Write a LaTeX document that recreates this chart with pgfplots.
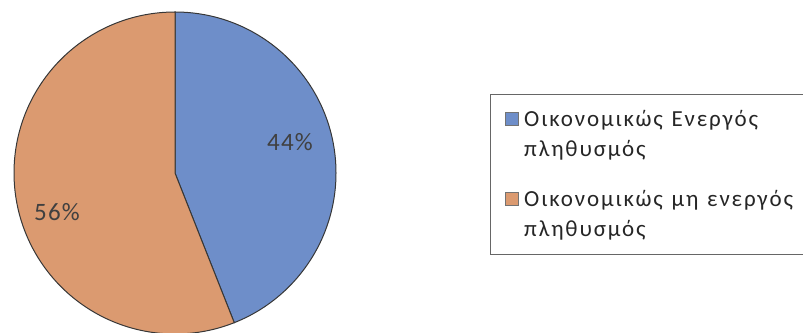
\documentclass[border=0pt]{standalone}
\usepackage{fontspec}
\setmainfont{Carlito}
\newfontfamily\widefont[LetterSpace=8, WordSpace=1.25]{Carlito}
\newfontfamily\labelfont[LetterSpace=5]{Carlito}
\usepackage{pgfplots}
\pgfplotsset{compat=1.18}

\definecolor{pieblue}{RGB}{110,142,201}
\definecolor{pieorange}{RGB}{219,154,112}
\definecolor{edge}{RGB}{55,55,55}

\begin{document}
\begin{tikzpicture}
\begin{axis}[
    name=ax,
    x=1pt, y=1pt,
    xmin=0, xmax=803,
    ymin=0, ymax=332,
    hide axis,
]
% 44% and 56%, slices start at 12 o'clock and run clockwise
\filldraw[fill=pieblue, draw=edge, line width=1pt]
    (axis cs:175,159) -- ++(0,161pt)
    arc[start angle=90, end angle={90-3.6*44}, radius=161pt] -- cycle;
\filldraw[fill=pieorange, draw=edge, line width=1pt]
    (axis cs:175,159) -- ++(0,161pt)
    arc[start angle=90, end angle={90+3.6*56}, radius=161pt] -- cycle;

\node[font=\labelfont\fontsize{25}{28}\selectfont, text=black!75] at (axis cs:290,190) {44\%};
\node[font=\labelfont\fontsize{25}{28}\selectfont, text=black!75] at (axis cs:57,120) {56\%};

% legend (right border runs off the picture, as in the source)
\draw[black!60, line width=0.8pt] (axis cs:490,78) rectangle (axis cs:830,238);
\filldraw[fill=pieblue, draw=black!55, line width=0.6pt] (axis cs:505,207) rectangle (axis cs:518,220);
\filldraw[fill=pieorange, draw=black!55, line width=0.6pt] (axis cs:505,127) rectangle (axis cs:518,140);
\begin{scope}[every node/.style={anchor=base west, inner sep=0pt, text=black!85,
    font=\widefont\fontsize{23}{30}\selectfont}]
\node at (axis cs:524,205) {Οικονομικώς Ενεργός};
\node at (axis cs:524,175) {πληθυσμός};
\node at (axis cs:524,125) {Οικονομικώς μη ενεργός};
\node at (axis cs:524,95) {πληθυσμός};
\end{scope}
\end{axis}
\pgfresetboundingbox
\useasboundingbox (ax.south west) rectangle (ax.north east);
\end{tikzpicture}
\end{document}
